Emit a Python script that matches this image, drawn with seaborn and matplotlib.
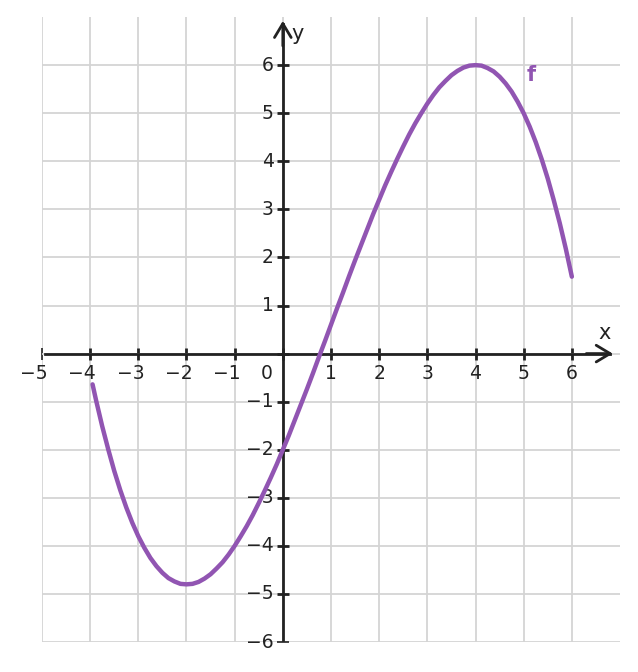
import numpy as np
import pandas as pd
import seaborn as sns
import matplotlib.pyplot as plt
from matplotlib.transforms import offset_copy

xs = [-3.95, -3.875, -3.75, -3.625, -3.5, -3.375, -3.25, -3.125, -3.0, -2.875,
      -2.75, -2.625, -2.5, -2.375, -2.25, -2.125, -2.0, -1.875, -1.75, -1.625,
      -1.5, -1.375, -1.25, -1.125, -1.0, -0.875, -0.75, -0.625, -0.5, -0.375,
      -0.25, -0.125, 0.0, 0.125, 0.25, 0.375, 0.5, 0.625, 0.75, 0.875,
      1.0, 1.125, 1.25, 1.375, 1.5, 1.625, 1.75, 1.875, 2.0, 2.125,
      2.25, 2.375, 2.5, 2.625, 2.75, 2.875, 3.0, 3.125, 3.25, 3.375,
      3.5, 3.625, 3.75, 3.875, 4.0, 4.125, 4.25, 4.375, 4.5, 4.625,
      4.75, 4.875, 5.0, 5.125, 5.25, 5.375, 5.5, 5.625, 5.75, 5.875, 6.0]
ys = [-0.64, -0.98, -1.51, -1.99, -2.44, -2.84, -3.20, -3.52, -3.80, -4.04,
      -4.25, -4.42, -4.56, -4.67, -4.74, -4.79, -4.80, -4.79, -4.75, -4.68,
      -4.59, -4.47, -4.34, -4.18, -4.00, -3.80, -3.59, -3.36, -3.11, -2.85,
      -2.58, -2.30, -2.00, -1.70, -1.38, -1.06, -0.74, -0.41, -0.07, 0.26,
      0.60, 0.94, 1.27, 1.61, 1.94, 2.26, 2.58, 2.90, 3.20, 3.50,
      3.78, 4.05, 4.31, 4.56, 4.79, 5.00, 5.20, 5.38, 5.54, 5.67,
      5.79, 5.88, 5.95, 5.99, 6.00, 5.99, 5.94, 5.87, 5.76, 5.62,
      5.45, 5.24, 5.00, 4.72, 4.40, 4.04, 3.64, 3.19, 2.71, 2.18, 1.60]
xticks = [-5, -4, -3, -2, -1, 1, 2, 3, 4, 5, 6]
yticks = [-6, -5, -4, -3, -2, -1, 1, 2, 3, 4, 5, 6]

df = pd.DataFrame({"x": xs, "y": ys})

sns.set_style("white")
plt.rcParams["font.family"] = ["DejaVu Sans"]

purple = "#9155b2"
dark = "#222222"

fig = plt.figure(figsize=(6.38, 6.72), dpi=100)
ax = fig.add_axes([0.0658, 0.0446, 0.906, 0.930])

sns.lineplot(data=df, x="x", y="y", sort=False, color=purple, lw=3.2, ax=ax,
             zorder=5, solid_joinstyle="round")

ax.set_xlim(-5, 7)
ax.set_ylim(-6, 7)
ax.set_xticks(list(range(-5, 7)))
ax.set_yticks(list(range(-6, 7)))
ax.grid(True, color="#d4d4d4", lw=1.3)
ax.set_axisbelow(True)
ax.set_xlabel("")
ax.set_ylabel("")

for s in ["top", "right"]:
    ax.spines[s].set_visible(False)
ax.spines["bottom"].set_position(("data", 0))
ax.spines["left"].set_position(("data", 0))
ax.spines["bottom"].set_bounds(-4.93, 6.8)
ax.spines["left"].set_bounds(-5.95, 6.85)
for s in ["bottom", "left"]:
    ax.spines[s].set_color(dark)
    ax.spines[s].set_linewidth(2)
    ax.spines[s].set_zorder(4)
ax.tick_params(direction="inout", length=8, width=2, color=dark,
               bottom=True, left=True, labelbottom=False, labelleft=False)
# the end ticks are thin
for t in [ax.xaxis.get_major_ticks()[0], ax.yaxis.get_major_ticks()[0]]:
    t.tick1line.set_markeredgewidth(1.2)
    t.tick1line.set_color("#555555")

arrow = dict(arrowstyle="->,head_length=0.5,head_width=0.3", color=dark, lw=2,
             mutation_scale=20, shrinkA=0, shrinkB=0)
ax.annotate("", xy=(6.85, 0), xytext=(6.3, 0), arrowprops=arrow, zorder=6)
ax.annotate("", xy=(0, 6.92), xytext=(0, 6.4), arrowprops=arrow, zorder=6)

fs = 13.5
xt = offset_copy(ax.transData, fig=fig, x=6, y=-10, units="dots")
for v in xticks:
    ax.text(v, 0, str(v).replace("-", "\u2212"), transform=xt, ha="right", va="top",
            fontsize=fs, color=dark)
ax.text(0, 0, "0", transform=offset_copy(ax.transData, fig=fig, x=-10, y=-10, units="dots"),
        ha="right", va="top", fontsize=fs, color=dark)
yt = offset_copy(ax.transData, fig=fig, x=-9, y=0, units="dots")
for v in yticks:
    ax.text(0, v, str(v).replace("-", "\u2212"), transform=yt, ha="right", va="center",
            fontsize=fs, color=dark)

ax.text(6.68, 0.42, "x", fontsize=15, color=dark, ha="center", va="center")
ax.text(0.3, 6.65, "y", fontsize=15, color=dark, ha="center", va="center")
ax.text(5.15, 5.8, "f", fontsize=15, color=purple, fontweight="bold", ha="center", va="center")

fig.savefig("out.png", dpi=100)
